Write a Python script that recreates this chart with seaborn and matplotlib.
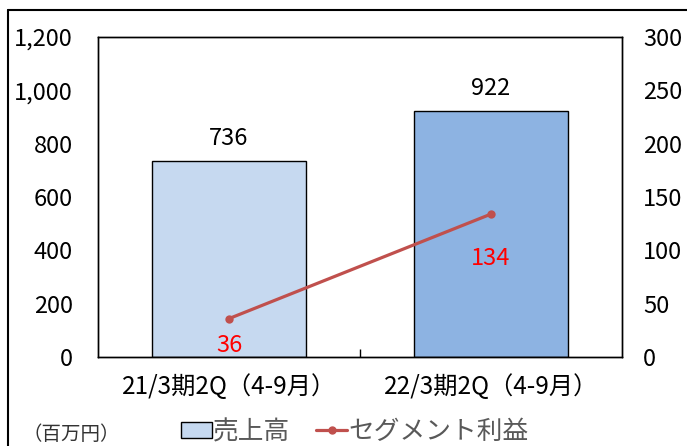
import numpy as np
import matplotlib
matplotlib.use('Agg')
import matplotlib.pyplot as plt
import seaborn as sns
from matplotlib.patches import Patch
from matplotlib.lines import Line2D

# chart data
categories = ['21/3期2Q（4-9月）', '22/3期2Q（4-9月）']
sales = [736, 922]
profit = [36, 134]
bar_colors = ['#C6D9F0', '#8DB3E2']
line_color = '#C0504D'

sns.set_theme(style='white')
plt.rcParams['font.family'] = ['Noto Sans CJK JP', 'DejaVu Sans']

fig = plt.figure(figsize=(6.87, 4.46), dpi=100)
ax = fig.add_axes([98 / 687, 1 - 357 / 446, 524 / 687, 320 / 446])

# sales bars
sns.barplot(x=categories, y=sales, hue=categories, palette=bar_colors, legend=False,
            saturation=1, edgecolor='black', linewidth=1.0, width=0.59, ax=ax)
ax.set_xlim(-0.5, 1.5)
ax.set_ylim(0, 1200)
ax.set_yticks(range(0, 1201, 200))
ax.set_yticklabels([f'{v:,}' for v in range(0, 1201, 200)])
for i, v in enumerate(sales):
    ax.annotate(f'{v}', (i, v), xytext=(0, 8), textcoords='offset points',
                ha='center', va='bottom', fontsize=17, color='black')

# segment profit line
ax2 = ax.twinx()
xs = np.arange(len(categories))
sns.lineplot(x=xs, y=profit, color=line_color, linewidth=2.3, marker='o',
             markersize=6, markeredgewidth=0, ax=ax2)
ax2.set_ylim(0, 300)
ax2.set_yticks(range(0, 301, 50))
label_drop = [11, 24]  # label placement below the points, in points
for i, v in enumerate(profit):
    ax2.annotate(f'{v}', (i, v), xytext=(0, -label_drop[i]), textcoords='offset points',
                 ha='center', va='top', fontsize=17, color='#FF0000')

for a in (ax, ax2):
    for s in a.spines.values():
        s.set_color('black')
        s.set_linewidth(1.0)
    a.set_xlabel('')
    a.set_ylabel('')
ax.tick_params(axis='y', length=0, pad=18, labelsize=17, labelcolor='black')
ax2.tick_params(axis='y', length=0, pad=15, labelsize=17, labelcolor='black')
ax.tick_params(axis='x', which='major', length=0, pad=12, labelsize=17.5, labelcolor='black')
ax.set_xticks([0.5], minor=True)
ax.tick_params(axis='x', which='minor', direction='in', length=6, width=1, color='black', bottom=True)

# legend and unit note
handles = [Patch(facecolor=bar_colors[0], edgecolor='black', linewidth=1.0),
           Line2D([0], [0], color=line_color, lw=2.3, marker='o', markersize=5)]
fig.legend(handles, ['売上高', 'セグメント利益'], loc='center', bbox_to_anchor=(355 / 687, 1 - 432 / 446),
           ncol=2, frameon=False, fontsize=18.5, labelcolor='#595959', handlelength=1.2,
           handleheight=0.6, handletextpad=0.05, columnspacing=1.0, borderpad=0)
fig.text(22 / 687, 1 - 435 / 446, '（百万円）', fontsize=14, color='#333333', ha='left', va='center')

# outer slide frame
fig.add_artist(Line2D([8 / 687, 8 / 687], [0, 1 - 10 / 446], transform=fig.transFigure, color='black', lw=1.5))
fig.add_artist(Line2D([8 / 687, 1], [1 - 10 / 446, 1 - 10 / 446], transform=fig.transFigure, color='black', lw=1.5))

fig.savefig('out.png', dpi=100)
